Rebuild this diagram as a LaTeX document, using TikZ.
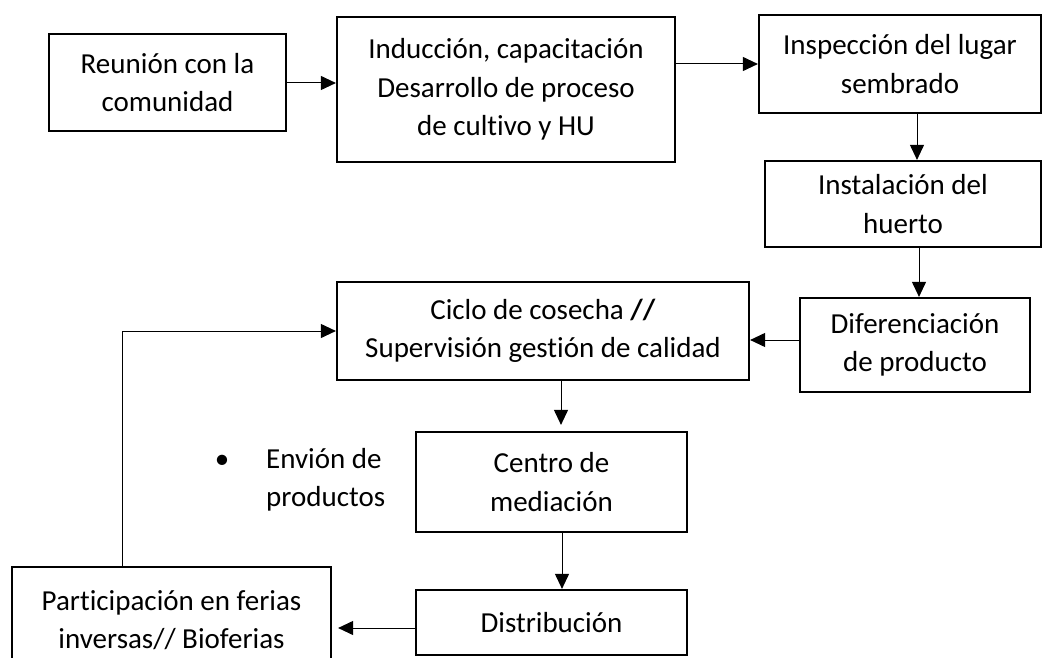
\documentclass[tikz,border=0pt]{standalone}
\usepackage{fontspec}
\setmainfont{Carlito}[Ligatures=NoCommon]
\usetikzlibrary{arrows.meta,calc}
\begin{document}
\begin{tikzpicture}[x=1pt,y=-1pt,
  txt/.style={font=\fontsize{29}{38.5}\selectfont},
  box/.style={txt, draw, line width=2.2pt, align=center, inner sep=0pt},
  arr/.style={-{Triangle[length=15pt,width=14pt]}, line width=1pt}]
\clip (0,0) rectangle (1047,658);
\fill[white] (0,0) rectangle (1047,658);
% boxes
\node[box, minimum width=237pt, minimum height=97pt] (b1) at (167.5,82.5) {Reunión con la\\comunidad};
\node[box, minimum width=338pt, minimum height=145pt] (b2) at (506,89.5) {Inducción, capacitación\\Desarrollo de proceso\\de cultivo y HU};
\node[box, minimum width=282pt, minimum height=98pt] (b3) at (900,64) {Inspección del lugar\\sembrado};
\node[box, minimum width=276pt, minimum height=86pt] (b4) at (903,204) {Instalación del\\huerto};
\node[box, minimum width=230pt, minimum height=94pt] (b5) at (915,345) {Diferenciación\\de producto};
\node[box, minimum width=412pt, minimum height=98pt] (b6) at (543,331) {Ciclo de cosecha \textbf{//}\\Supervisión gestión de calidad};
\node[box, minimum width=271pt, minimum height=100pt] (b7) at (551.5,482) {Centro de\\mediación};
\node[box, minimum width=271pt, minimum height=65pt] (b8) at (551.5,622.5) {Distribución};
\node[box, minimum width=319pt, minimum height=106pt] (b9) at (171.5,620) {Participación en ferias\\inversas// Bioferias};
% side note
\node[txt, inner sep=0pt] (bul) at (222,462) {\textbullet};
\node[txt, inner sep=0pt, anchor=west, align=left] (env) at (266,480) {Envión de\\productos};
% connector anchors
\coordinate (p1) at (0,83);
\coordinate (p2) at (0,64);
\coordinate (p3) at (917,0);
\coordinate (p4) at (919,0);
\coordinate (p5) at (0,340);
\coordinate (p6) at (561,0);
\coordinate (p7) at (562,0);
\coordinate (p8) at (0,628);
\coordinate (p9) at (122,0);
% connectors
\draw[arr] (b1.east |- p1) -- (b2.west |- p1);
\draw[arr] (b2.east |- p2) -- (b3.west |- p2);
\draw[arr] (b3.south -| p3) -- (b4.north -| p3);
\draw[arr] (b4.south -| p4) -- (b5.north -| p4);
\draw[arr] (b5.west |- p5) -- (b6.east |- p5);
\draw[arr, shorten >=6pt] (b6.south -| p6) -- (b7.north -| p6);
\draw[arr] (b7.south -| p7) -- (b8.north -| p7);
\draw[arr, shorten >=6pt] (b8.west |- p8) -- (b9.east |- p8);
\draw[arr] (b9.north -| p9) |- (b6.west);
\end{tikzpicture}
\end{document}
